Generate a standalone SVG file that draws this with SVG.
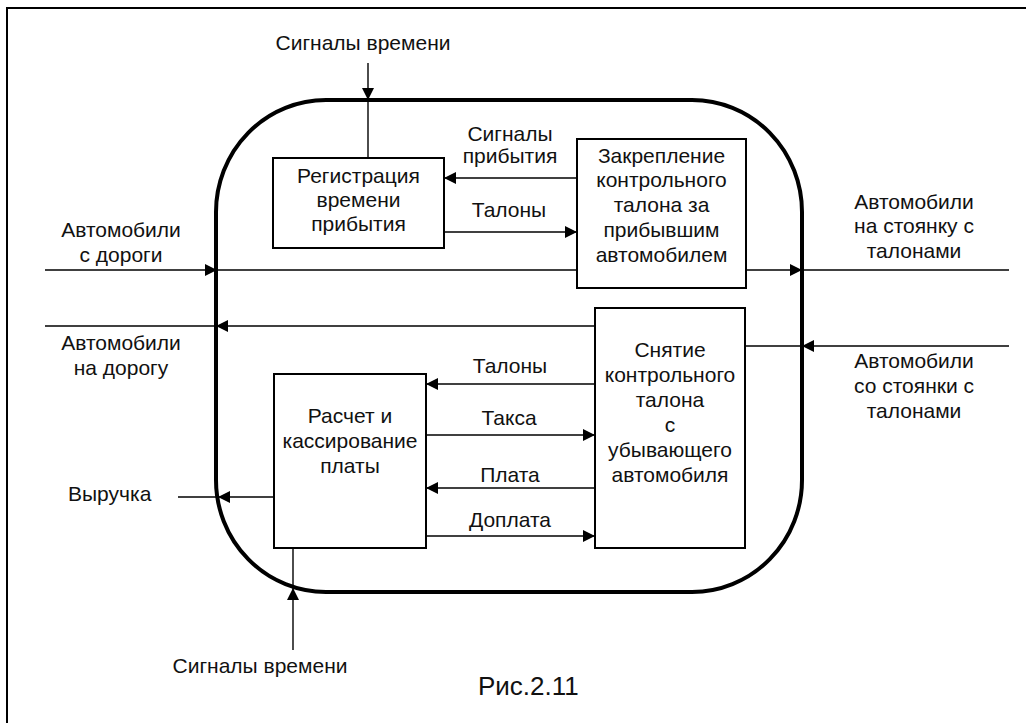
<svg xmlns="http://www.w3.org/2000/svg" width="1026" height="723" viewBox="0 0 1026 723">
<defs>
<marker id="ah" markerUnits="userSpaceOnUse" markerWidth="14" markerHeight="14" viewBox="0 0 14 14" refX="13" refY="7" orient="auto">
<path d="M1,1 L13,7 L1,13 Z" fill="#000"/>
</marker>
<style>
text{font-family:"Liberation Sans",Arial,sans-serif;font-size:21px;fill:#111;}
.c{text-anchor:middle;}
.box{fill:#fff;stroke:#000;stroke-width:2;}
.ln{stroke:#000;stroke-width:1.4;fill:none;}
.a{marker-end:url(#ah);}
</style>
</defs>
<rect width="1026" height="723" fill="#fff"/>
<path d="M7,723 L7,8 L1026,8" fill="none" stroke="#000" stroke-width="2"/>
<g id="boundary">
<rect x="216" y="100" width="586" height="492" rx="110" ry="112" fill="none" stroke="#000" stroke-width="4"/>
</g>
<g id="connectors">
<line class="ln a" x1="368" y1="63" x2="368" y2="100"/>
<line class="ln" x1="368" y1="100" x2="368" y2="158"/>
<line class="ln a" x1="577" y1="178" x2="444" y2="178"/>
<line class="ln a" x1="444" y1="232" x2="577" y2="232"/>
<line class="ln a" x1="45" y1="270" x2="217" y2="270"/>
<line class="ln" x1="217" y1="270" x2="577" y2="270"/>
<line class="ln a" x1="746" y1="270" x2="802" y2="270"/>
<line class="ln" x1="802" y1="270" x2="1009" y2="270"/>
<line class="ln a" x1="595" y1="326" x2="216" y2="326"/>
<line class="ln" x1="216" y1="326" x2="45" y2="326"/>
<line class="ln a" x1="1009" y1="346" x2="802" y2="346"/>
<line class="ln" x1="802" y1="346" x2="745" y2="346"/>
<line class="ln a" x1="595" y1="384" x2="426" y2="384"/>
<line class="ln a" x1="426" y1="435" x2="595" y2="435"/>
<line class="ln a" x1="595" y1="488" x2="426" y2="488"/>
<line class="ln a" x1="426" y1="536" x2="595" y2="536"/>
<line class="ln a" x1="274" y1="497" x2="218" y2="497"/>
<line class="ln" x1="218" y1="497" x2="178" y2="497"/>
<line class="ln a" x1="293" y1="650" x2="293" y2="588"/>
<line class="ln" x1="293" y1="588" x2="293" y2="548"/>
</g>
<g id="n1">
<rect class="box" x="273" y="158" width="171" height="90"/>
<text class="c" x="358.5" y="183">Регистрация</text>
<text class="c" x="358.5" y="207">времени</text>
<text class="c" x="358.5" y="231">прибытия</text>
</g>
<g id="n2">
<rect class="box" x="577" y="139" width="169" height="149"/>
<text class="c" x="661.5" y="163">Закрепление</text>
<text class="c" x="661.5" y="187">контрольного</text>
<text class="c" x="661.5" y="212">талона за</text>
<text class="c" x="661.5" y="237">прибывшим</text>
<text class="c" x="661.5" y="262">автомобилем</text>
</g>
<g id="n3">
<rect class="box" x="274" y="374" width="152" height="174"/>
<text class="c" x="350" y="423">Расчет и</text>
<text class="c" x="350" y="448">кассирование</text>
<text class="c" x="350" y="473">платы</text>
</g>
<g id="n4">
<rect class="box" x="595" y="308" width="150" height="240"/>
<text class="c" x="670" y="357">Снятие</text>
<text class="c" x="670" y="382">контрольного</text>
<text class="c" x="670" y="407">талона</text>
<text class="c" x="670" y="432">с</text>
<text class="c" x="670" y="457">убывающего</text>
<text class="c" x="670" y="482">автомобиля</text>
</g>
<g id="labels">
<text class="c" x="363" y="50">Сигналы времени</text>
<text class="c" x="510" y="141">Сигналы</text>
<text class="c" x="510" y="163">прибытия</text>
<text class="c" x="509" y="217">Талоны</text>
<text class="c" x="121" y="237">Автомобили</text>
<text class="c" x="121" y="262">с дороги</text>
<text class="c" x="914" y="209">Автомобили</text>
<text class="c" x="914" y="233">на стоянку с</text>
<text class="c" x="914" y="258">талонами</text>
<text class="c" x="121" y="350">Автомобили</text>
<text class="c" x="121" y="375">на дорогу</text>
<text class="c" x="914" y="368">Автомобили</text>
<text class="c" x="914" y="393">со стоянки с</text>
<text class="c" x="914" y="418">талонами</text>
<text class="c" x="510" y="373">Талоны</text>
<text class="c" x="509" y="425">Такса</text>
<text class="c" x="510" y="482">Плата</text>
<text class="c" x="510" y="527">Доплата</text>
<text x="68" y="501">Выручка</text>
<text class="c" x="260" y="673">Сигналы времени</text>
<text x="478" y="695" style="font-size:26px">Рис.2.11</text>
</g>
</svg>
